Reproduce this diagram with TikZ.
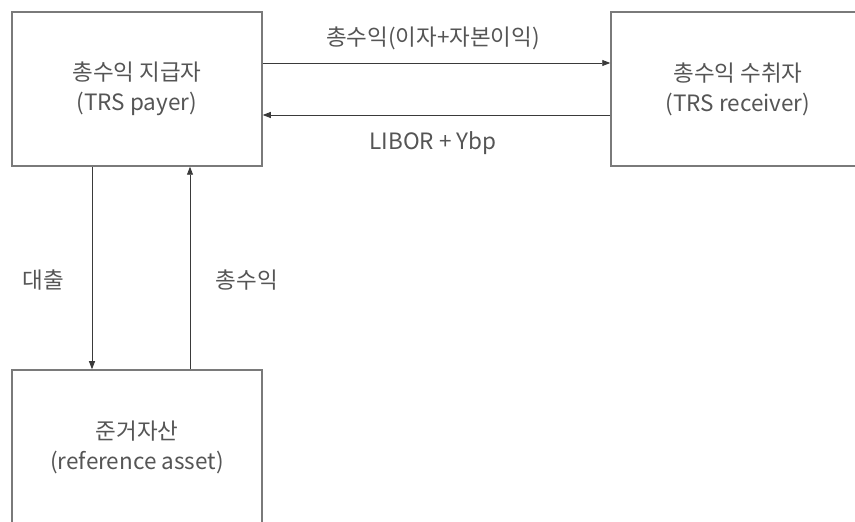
\documentclass[tikz,border=0pt]{standalone}
\usepackage{fontspec}
\setmainfont{Noto Sans CJK KR}
\usetikzlibrary{arrows.meta}
\definecolor{boxline}{HTML}{7A7A7A}
\definecolor{conline}{HTML}{3A3A3A}
\definecolor{txt}{HTML}{555555}
\tikzset{
  box/.style={draw=boxline, line width=1.5pt, minimum width=250pt, minimum height=154pt, inner sep=0pt, align=center, text=txt, font=\fontsize{22.5}{30}\selectfont},
  flow/.style={draw=conline, line width=0.9pt, -{Triangle[length=8pt,width=6pt]}},
  lbl/.style={text=txt, font=\fontsize{22.5}{26}\selectfont, inner sep=0pt}
}
\begin{document}
\begin{tikzpicture}[x=1pt,y=1pt]
\useasboundingbox (0,0) rectangle (855,522);
\fill[white] (0,0) rectangle (855,522);
\clip (0,0) rectangle (855,522);
\node[box] (payer) at (137,433) {총수익 지급자\\(TRS payer)};
\node[box, minimum width=254pt] (recv) at (738,433) {총수익 수취자\\(TRS receiver)};
\node[box, minimum height=155pt] (asset) at (137,74.5) {준거자산\\(reference asset)};
\coordinate (ya) at (0,459);
\coordinate (yb) at (0,407);
\coordinate (xa) at (92,0);
\coordinate (xb) at (190,0);
\draw[flow] (payer.east |- ya) -- (recv.west |- ya);
\draw[flow] (recv.west |- yb) -- (payer.east |- yb);
\draw[flow] (xa |- payer.south) -- (xa |- asset.north);
\draw[flow] (xb |- asset.north) -- (xb |- payer.south);
\node[lbl] (l1) at (433,484) {총수익(이자+자본이익)};
\node[lbl] (l2) at (433,379) {LIBOR + Ybp};
\node[lbl] (l3) at (43,242) {대출};
\node[lbl] (l4) at (247,242) {총수익};
\end{tikzpicture}
\end{document}
